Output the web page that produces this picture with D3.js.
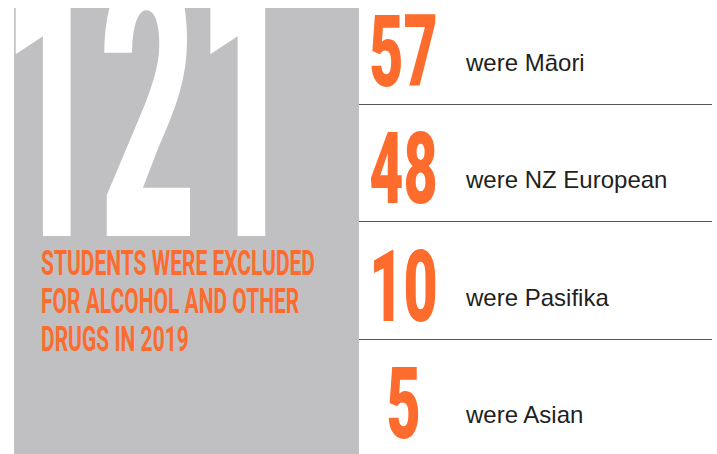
<!DOCTYPE html>
<html>
<head>
<meta charset="utf-8">
<script src="https://cdn.jsdelivr.net/npm/d3@7"></script>
<style>
  body { margin: 0; background: #fff; }
  svg { display: block; }
</style>
</head>
<body>
<div id="chart"></div>
<script>
// data
const total = 121;
const headline = ["STUDENTS WERE EXCLUDED", "FOR ALCOHOL AND OTHER", "DRUGS IN 2019"];
const groups = ["Māori", "NZ European", "Pasifika", "Asian"];
const counts = [57, 48, 10, 5];

const width = 717, height = 454;
const orange = "#fd6b2d";
const grey = "#c0c0c2";

const svg = d3.select("#chart").append("svg")
    .attr("width", width)
    .attr("height", height);

// left panel
const panel = {x: 14, y: 8, w: 345, h: height - 8};
svg.append("rect")
    .attr("x", panel.x)
    .attr("y", panel.y)
    .attr("width", panel.w)
    .attr("height", panel.h)
    .attr("fill", grey);

// the total is cropped by the top of the panel
svg.append("clipPath")
    .attr("id", "totalClip")
    .append("rect")
    .attr("x", panel.x)
    .attr("y", panel.y)
    .attr("width", panel.w)
    .attr("height", 232);

// big total, condensed by squashing horizontally
svg.append("g")
    .attr("clip-path", "url(#totalClip)")
    .append("text")
    .attr("class", "total")
    .attr("transform", "translate(2,236) scale(0.442,1)")
    .attr("font-family", "Roboto")
    .attr("font-weight", 900)
    .attr("font-size", 380)
    .attr("fill", "#fff")
    .text(total);

// orange headline under the total
const lineY = d3.scalePoint().domain(d3.range(headline.length)).range([275, 351]);
svg.selectAll("text.headline")
    .data(headline)
    .enter()
    .append("text")
    .attr("class", "headline")
    .attr("transform", (d, i) => "translate(41," + lineY(i) + ") scale(0.6,1)")
    .attr("font-family", "Roboto")
    .attr("font-weight", 700)
    .attr("font-size", 35)
    .attr("fill", orange)
    .text(d => d);

// right side rows
const y = d3.scalePoint().domain(groups).range([86, 438]);
const rows = groups.map((g, i) => ({group: g, count: counts[i]}));

// separators between rows
svg.selectAll("line.sep")
    .data(groups.slice(0, -1))
    .enter()
    .append("line")
    .attr("class", "sep")
    .attr("x1", panel.x + panel.w)
    .attr("x2", 712)
    .attr("y1", d => Math.round(y(d) + 18) + 0.5)
    .attr("y2", d => Math.round(y(d) + 18) + 0.5)
    .attr("stroke", "#555")
    .attr("stroke-width", 1);

svg.selectAll("text.count")
    .data(rows)
    .enter()
    .append("text")
    .attr("class", "count")
    .attr("transform", d => "translate(403.5," + y(d.group) + ") scale(0.59,1)")
    .attr("text-anchor", "middle")
    .attr("font-family", "Roboto")
    .attr("font-weight", 900)
    .attr("font-size", 100)
    .attr("fill", orange)
    .text(d => d.count);

svg.selectAll("text.label")
    .data(rows)
    .enter()
    .append("text")
    .attr("class", "label")
    .attr("x", 466)
    .attr("y", d => y(d.group) - 15)
    .attr("font-family", "Liberation Sans, Arial, sans-serif")
    .attr("font-size", 24)
    .attr("fill", "#231f20")
    .text(d => "were " + d.group);
</script>
</body>
</html>
